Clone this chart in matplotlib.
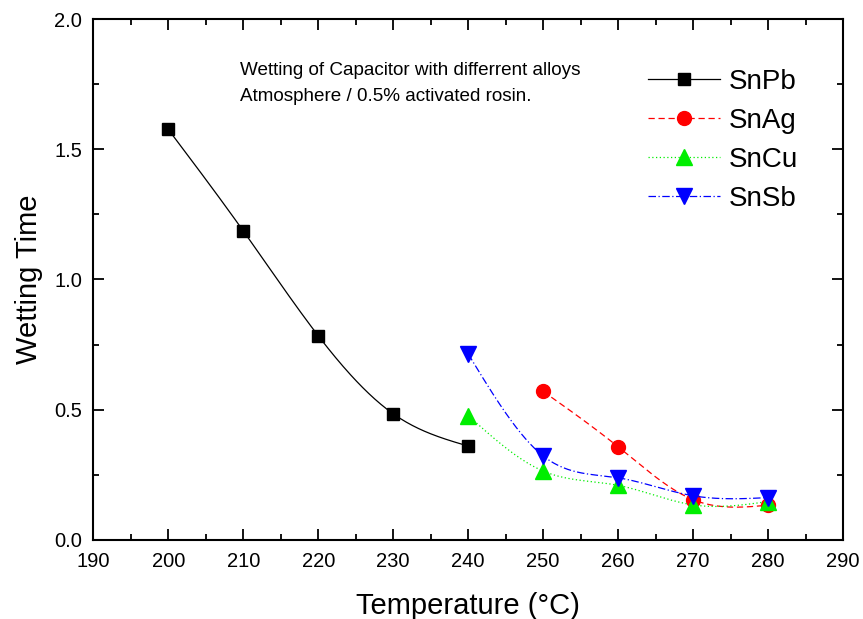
import numpy as np
import matplotlib
matplotlib.use("Agg")
import matplotlib.pyplot as plt
from matplotlib.ticker import MultipleLocator, FormatStrFormatter

plt.rcParams['font.family'] = ['Liberation Sans', 'DejaVu Sans']

snpb_x = [200, 210, 220, 230, 240]
snpb_y = [1.577, 1.187, 0.784, 0.484, 0.36]
snag_x = [250, 260, 270, 280]
snag_y = [0.570, 0.357, 0.154, 0.133]
sncu_x = [240, 250, 260, 270, 280]
sncu_y = [0.477, 0.264, 0.209, 0.134, 0.147]
snsb_x = [240, 250, 260, 270, 280]
snsb_y = [0.714, 0.322, 0.238, 0.169, 0.162]


def spline(x, y, n=200):
    x = np.asarray(x, float); y = np.asarray(y, float)
    m = len(x)
    h = np.diff(x)
    A = np.zeros((m, m)); b = np.zeros(m)
    A[0, 0] = 1; A[-1, -1] = 1
    for i in range(1, m - 1):
        A[i, i - 1] = h[i - 1]; A[i, i] = 2 * (h[i - 1] + h[i]); A[i, i + 1] = h[i]
        b[i] = 3 * ((y[i + 1] - y[i]) / h[i] - (y[i] - y[i - 1]) / h[i - 1])
    c = np.linalg.solve(A, b)
    xs = np.linspace(x[0], x[-1], n)
    ys = np.empty_like(xs)
    for k, xv in enumerate(xs):
        i = min(np.searchsorted(x, xv, side='right') - 1, m - 2)
        dx = xv - x[i]
        bb = (y[i + 1] - y[i]) / h[i] - h[i] * (2 * c[i] + c[i + 1]) / 3
        d = (c[i + 1] - c[i]) / (3 * h[i])
        ys[k] = y[i] + bb * dx + c[i] * dx ** 2 + d * dx ** 3
    return xs, ys


fig = plt.figure(figsize=(8.63, 6.19), dpi=100)
ax = fig.add_axes([0.108, 0.128, 0.869, 0.841])

series = [
    ('SnPb', snpb_x, snpb_y, 'black', '-', 's', 9),
    ('SnAg', snag_x, snag_y, 'red', (0, (5, 3)), 'o', 10),
    ('SnCu', sncu_x, sncu_y, '#00ee00', (0, (1, 2)), '^', 11),
    ('SnSb', snsb_x, snsb_y, 'blue', (0, (6, 2, 1, 2)), 'v', 11),
]
for name, xs, ys, col, ls, mk, ms in series:
    sx, sy = spline(xs, ys)
    ax.plot(sx, sy, color=col, linestyle=ls, linewidth=0.9)
    ax.plot(xs, ys, linestyle='none', marker=mk, markersize=ms, color=col)
    ax.plot([], [], color=col, linestyle=ls, linewidth=0.9, marker=mk,
            markersize=ms, label=name)

ax.set_xlim(190, 290)
ax.set_ylim(0, 2.0)
ax.xaxis.set_major_locator(MultipleLocator(10))
ax.xaxis.set_minor_locator(MultipleLocator(5))
ax.yaxis.set_major_locator(MultipleLocator(0.5))
ax.yaxis.set_minor_locator(MultipleLocator(0.25))
ax.tick_params(which='both', direction='in', top=True, right=True, labelsize=14.5, width=1.3)
ax.tick_params(which='major', length=8)
ax.tick_params(which='minor', length=4)
ax.tick_params(axis='x', which='major', pad=9)
ax.tick_params(axis='y', which='major', pad=8)
for s in ax.spines.values():
    s.set_linewidth(1.5)
ax.yaxis.set_major_formatter(FormatStrFormatter('%.1f'))
ax.set_xlabel('Temperature (°C)', fontsize=21, labelpad=15)
ax.set_ylabel('Wetting Time', fontsize=21, labelpad=8)

ax.text(209.6, 1.804, 'Wetting of Capacitor with differrent alloys', fontsize=13.6, ha='left', va='center')
ax.text(209.6, 1.704, 'Atmosphere / 0.5% activated rosin.', fontsize=13.6, ha='left', va='center')

leg = ax.legend(loc='upper left', bbox_to_anchor=(0.74, 0.905), frameon=False,
                fontsize=20, handlelength=2.6, handletextpad=0.3, labelspacing=0.47,
                borderpad=0, borderaxespad=0)

fig.savefig('out.png', dpi=100)
